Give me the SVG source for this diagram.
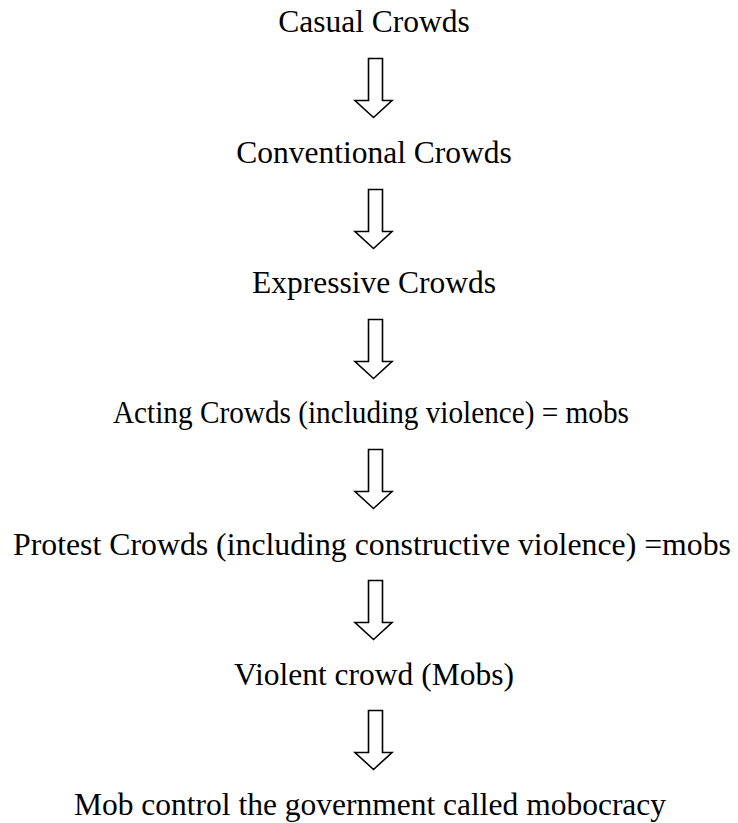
<svg xmlns="http://www.w3.org/2000/svg" xmlns:xlink="http://www.w3.org/1999/xlink" width="738" height="823" viewBox="0 0 738 823">
  <style>
    .lbl { font-family: "Liberation Serif", "Times New Roman", serif; font-size: 31.5px; fill: #000; text-anchor: middle; }
    .arr { fill: #fff; stroke: #000; stroke-width: 1.6; stroke-linejoin: miter; }
  </style>
  <defs>
    <path id="downArrow" class="arr" d="M368.5,0 L382.5,0 L382.5,42 L392,42 L373.5,59 L355,42 L368.5,42 Z"/>
  </defs>
  <rect width="738" height="823" fill="#fff"/>
  <g id="connectors">
    <use xlink:href="#downArrow" href="#downArrow" transform="translate(0,58.5)"/>
    <use xlink:href="#downArrow" href="#downArrow" transform="translate(0,189.5)"/>
    <use xlink:href="#downArrow" href="#downArrow" transform="translate(0,319.5)"/>
    <use xlink:href="#downArrow" href="#downArrow" transform="translate(0,449.5)"/>
    <use xlink:href="#downArrow" href="#downArrow" transform="translate(0,580.5)"/>
    <use xlink:href="#downArrow" href="#downArrow" transform="translate(0,710.5)"/>
  </g>
  <g id="casual"><text class="lbl" x="374" y="32">Casual Crowds</text></g>
  <g id="conventional"><text class="lbl" x="374" y="163">Conventional Crowds</text></g>
  <g id="expressive"><text class="lbl" x="374" y="293">Expressive Crowds</text></g>
  <g id="acting"><text class="lbl" x="371" y="423" textLength="516" lengthAdjust="spacingAndGlyphs">Acting Crowds (including violence) = mobs</text></g>
  <g id="protest"><text class="lbl" x="372" y="555" textLength="718" lengthAdjust="spacingAndGlyphs">Protest Crowds (including constructive violence) =mobs</text></g>
  <g id="violent"><text class="lbl" x="374" y="685">Violent crowd (Mobs)</text></g>
  <g id="mobocracy"><text class="lbl" x="370" y="815">Mob control the government called mobocracy</text></g>
</svg>
